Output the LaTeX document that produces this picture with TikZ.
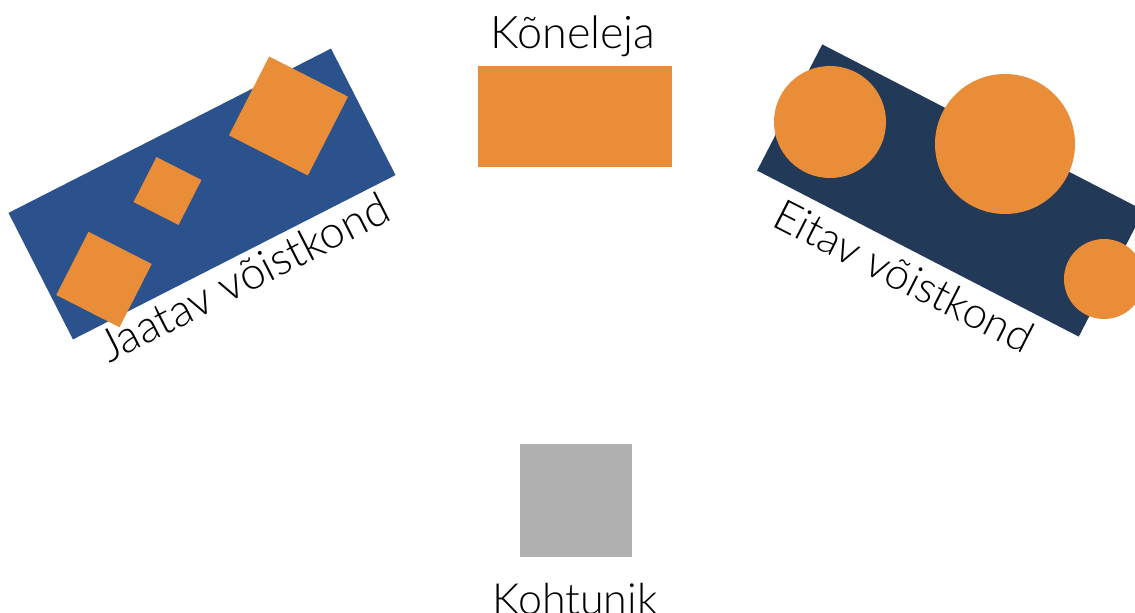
\documentclass[tikz,border=0pt]{standalone}
\usepackage{fontspec}
\setmainfont{Lato}[UprightFont={* Light}]
\definecolor{orng}{HTML}{E98D39}
\definecolor{teamblue}{HTML}{2B528C}
\definecolor{teamnavy}{HTML}{233958}
\definecolor{judgegray}{HTML}{B0B0B0}
\begin{document}
\begin{tikzpicture}[x=1pt,y=-1pt,
  blk/.style={inner sep=0pt, outer sep=0pt, draw=none},
  sq/.style={blk, fill=orng, minimum size=#1, rotate=-27},
  disc/.style={blk, circle, fill=orng, minimum size=#1},
  lbl/.style={inner sep=0pt, font=\fontsize{#1}{52}\selectfont},
  lbl/.default=44]
\useasboundingbox (0,0) rectangle (1135,613);
\clip (0,0) rectangle (1135,613);
% affirmative team
\node[blk, fill=teamblue, minimum width=362pt, minimum height=142pt, rotate=27] (aff) at (202,194) {};
\node[sq=88.5pt] (a1) at (288.5,116) {};
\node[sq=50.5pt] (a2) at (167.5,191) {};
\node[sq=71pt] (a3) at (104,279.5) {};
\node[lbl=45, anchor=base west, rotate=27] (afflbl) at (109,364) {Jaatav võistkond};
% negative team
\node[blk, fill=teamnavy, minimum width=362pt, minimum height=142pt, rotate=-27.3] (neg) at (950.5,190.5) {};
\node[disc=112pt] (n1) at (830,122) {};
\node[disc=140pt] (n2) at (1005,144) {};
\node[disc=80pt] (n3) at (1104,279) {};
\node[lbl=43.5, anchor=base west, rotate=-27] (neglbl) at (770,225) {Eitav võistkond};
% speaker
\node[blk, fill=orng, minimum width=194pt, minimum height=101pt] (spk) at (575,116.5) {};
\node[lbl=45, anchor=base] (spklbl) at (573,48) {Kõneleja};
% judge
\node[blk, fill=judgegray, minimum width=112pt, minimum height=113pt] (jdg) at (576,500.5) {};
\node[lbl=43, anchor=base] (jdglbl) at (575,614) {Kohtunik};
\end{tikzpicture}
\end{document}
